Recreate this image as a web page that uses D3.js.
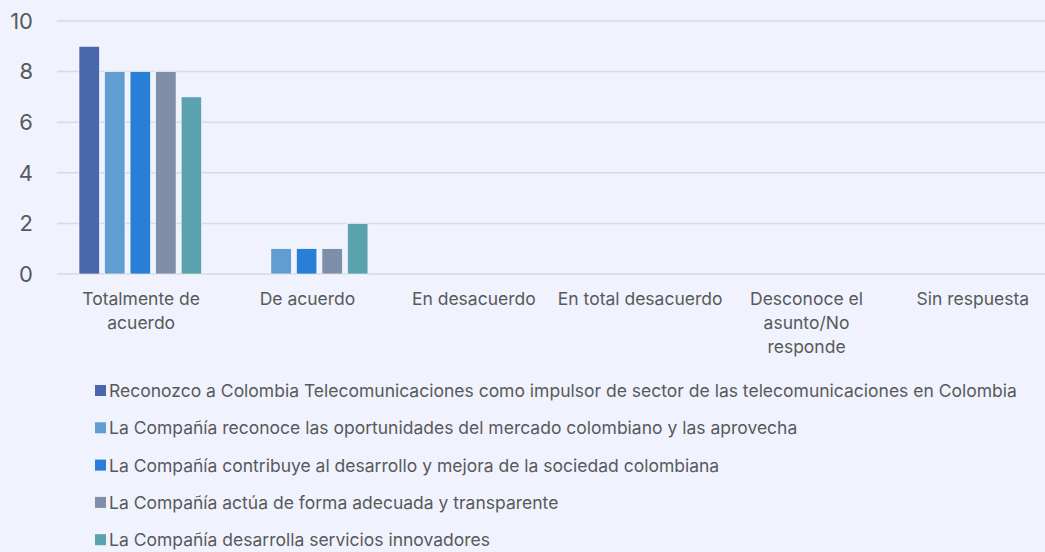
<!DOCTYPE html>
<html>
<head>
<meta charset="utf-8">
<script src="https://cdn.jsdelivr.net/npm/d3@7"></script>
<style>
  body { margin: 0; background: #f0f3fe; }
  svg { display: block; font-family: "Inter", "Noto Sans", sans-serif; }
</style>
</head>
<body>
<div id="vis"></div>
<script>
// Frame size and margins
const FRAME_WIDTH = 1045;
const FRAME_HEIGHT = 552;
const MARGINS = {left: 58, right: 0, top: 21, bottom: 278};

// plot area runs slightly past the right edge of the frame
const VIS_WIDTH = 998;
const VIS_HEIGHT = FRAME_HEIGHT - MARGINS.top - MARGINS.bottom;

// Data
const categories = [
  ["Totalmente de", "acuerdo"],
  ["De acuerdo"],
  ["En desacuerdo"],
  ["En total desacuerdo"],
  ["Desconoce el", "asunto/No", "responde"],
  ["Sin respuesta"]
];
const seriesNames = [
  "Reconozco a Colombia Telecomunicaciones como impulsor de sector de las telecomunicaciones en Colombia",
  "La Compañía reconoce las oportunidades del mercado colombiano y las aprovecha",
  "La Compañía contribuye al desarrollo y mejora de la sociedad colombiana",
  "La Compañía actúa de forma adecuada y transparente",
  "La Compañía desarrolla servicios innovadores"
];
const seriesColors = ["#4a66ac", "#629dd1", "#297fd5", "#7f8fa9", "#5aa2ae"];
const series1 = [9, 0, 0, 0, 0, 0];
const series2 = [8, 1, 0, 0, 0, 0];
const series3 = [8, 1, 0, 0, 0, 0];
const series4 = [8, 1, 0, 0, 0, 0];
const series5 = [7, 2, 0, 0, 0, 0];
const yTicks = [0, 2, 4, 6, 8, 10];

const allSeries = [series1, series2, series3, series4, series5];

const FRAME = d3.select("#vis")
  .append("svg")
    .attr("width", FRAME_WIDTH)
    .attr("height", FRAME_HEIGHT);

const G = FRAME.append("g")
  .attr("transform", "translate(" + MARGINS.left + "," + MARGINS.top + ")");

// Scales
const X_SCALE = d3.scaleBand()
  .domain(d3.range(categories.length))
  .range([0, VIS_WIDTH]);

// bars inside each category
const X_INNER = d3.scaleBand()
  .domain(d3.range(allSeries.length))
  .range([21, 21 + 122.6])
  .paddingInner(0.2);

const Y_SCALE = d3.scaleLinear()
  .domain([0, 10])
  .range([VIS_HEIGHT, 0]);

// Gridlines
G.selectAll(".grid")
  .data(yTicks)
  .enter()
  .append("line")
    .attr("x1", -1)
    .attr("x2", FRAME_WIDTH - MARGINS.left)
    .attr("y1", d => Y_SCALE(d))
    .attr("y2", d => Y_SCALE(d))
    .attr("stroke", "#d9dae0")
    .attr("stroke-width", 1.5);

// Y tick labels
G.selectAll(".ytick")
  .data(yTicks)
  .enter()
  .append("text")
    .attr("x", -25)
    .attr("y", d => Y_SCALE(d))
    .attr("dy", "0.35em")
    .attr("text-anchor", "end")
    .attr("fill", "#595959")
    .attr("font-size", 22)
    .text(d => d);

// Bars
allSeries.forEach((vals, s) => {
  G.selectAll(".bar" + s)
    .data(vals)
    .enter()
    .append("rect")
      .attr("x", (d, i) => X_SCALE(i) + X_INNER(s))
      .attr("y", d => Y_SCALE(d))
      .attr("width", X_INNER.bandwidth())
      .attr("height", d => VIS_HEIGHT - Y_SCALE(d))
      .attr("fill", seriesColors[s])
      .attr("stroke", d => d > 0 ? "#ffffff" : "none")
      .attr("stroke-width", 0.6);
});

// Category labels
const catLabels = G.selectAll(".cat")
  .data(categories)
  .enter()
  .append("text")
    .attr("text-anchor", "middle")
    .attr("fill", "#595959")
    .attr("font-size", 17.5)
    .attr("x", (d, i) => X_SCALE(i) + X_SCALE.bandwidth() / 2)
    .attr("y", VIS_HEIGHT + 31);

catLabels.selectAll("tspan")
  .data(d => d)
  .enter()
  .append("tspan")
    .attr("x", function() { return d3.select(this.parentNode).attr("x"); })
    .attr("dy", (d, i) => i === 0 ? 0 : 24)
    .text(d => d);

// Legend
const LEGEND = FRAME.append("g")
  .attr("transform", "translate(95, 391)");

const items = LEGEND.selectAll(".item")
  .data(seriesNames)
  .enter()
  .append("g")
    .attr("transform", (d, i) => "translate(0," + (i * 37.3) + ")");

items.append("rect")
  .attr("x", 0)
  .attr("y", -6)
  .attr("width", 11)
  .attr("height", 11)
  .attr("fill", (d, i) => seriesColors[i]);

items.append("text")
  .attr("x", 14)
  .attr("y", 0)
  .attr("dy", "0.35em")
  .attr("fill", "#595959")
  .attr("font-size", 17.5)
  .text(d => d);
</script>
</body>
</html>
